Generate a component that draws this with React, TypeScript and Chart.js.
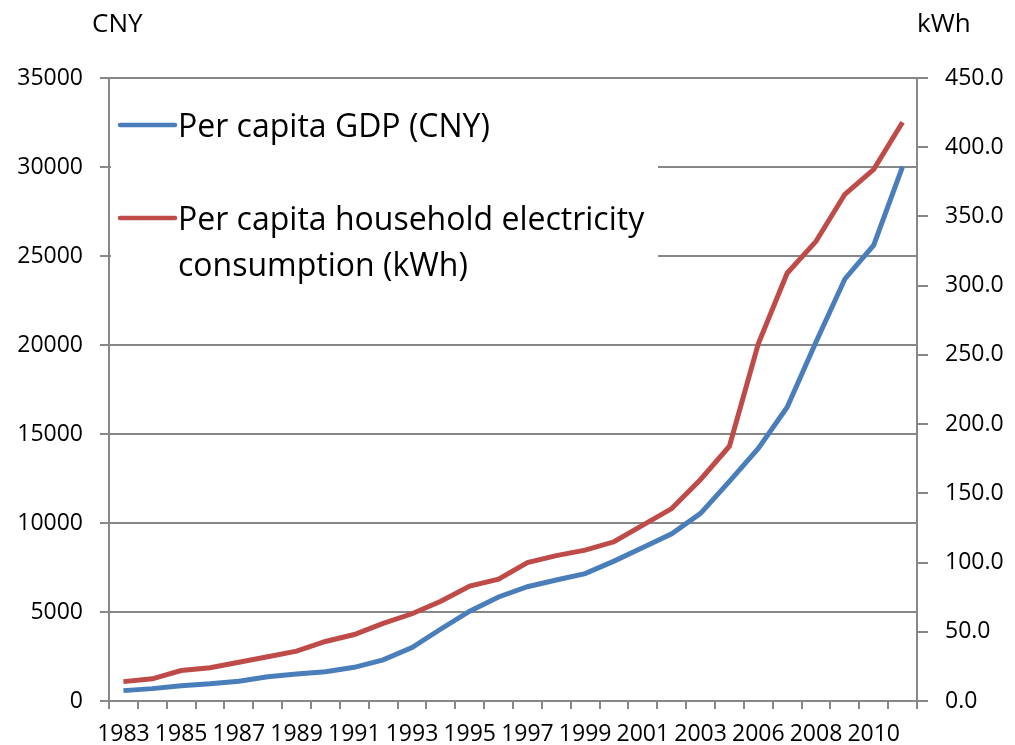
import React, { useEffect, useRef } from 'react';
import { Chart, registerables } from 'chart.js';

Chart.register(...registerables);

const years = [
  '1983', '1984', '1985', '1986', '1987', '1988', '1989', '1990', '1991', '1992',
  '1993', '1994', '1995', '1996', '1997', '1998', '1999', '2000', '2001', '2002',
  '2003', '2005', '2006', '2007', '2008', '2009', '2010', '2011',
];

const gdpCNY = [
  583, 695, 858, 963, 1112, 1366, 1519, 1644, 1893, 2311,
  2998, 4044, 5046, 5846, 6420, 6796, 7159, 7858, 8622, 9398,
  10542, 12336, 14185, 16500, 20169, 23708, 25608, 30015,
];

const electricityKWh = [
  14, 16, 22, 24, 28, 32, 36, 43, 48, 56,
  63, 72, 83, 88, 100, 105, 109, 115, 127, 139,
  160, 184, 258, 309, 332, 366, 384, 418,
];

const seriesLabels = ['Per capita GDP (CNY)', 'Per capita household electricity consumption (kWh)'];
const legendLines = [['Per capita GDP (CNY)'], ['Per capita household electricity', 'consumption (kWh)']];
const axisTitles = ['CNY', 'kWh'];

const FONT = '"Open Sans", Lato, sans-serif';
const GRID = '#878787';
const BLUE = '#4a7ebb';
const RED = '#be4b48';

const overlayPlugin = {
  id: 'overlay',
  afterDraw(chart: any) {
    const ctx = chart.ctx as CanvasRenderingContext2D;
    ctx.save();
    // legend box
    ctx.fillStyle = '#ffffff';
    ctx.fillRect(111, 90, 547, 210);
    const colors = [BLUE, RED];
    const rows = [[137], [230, 276]];
    const sampleY = [125, 218];
    ctx.font = `32px ${FONT}`;
    ctx.textBaseline = 'alphabetic';
    ctx.textAlign = 'left';
    legendLines.forEach((lines, i) => {
      ctx.strokeStyle = colors[i];
      ctx.lineWidth = 4.5;
      ctx.lineCap = 'round';
      ctx.beginPath();
      ctx.moveTo(120, sampleY[i]);
      ctx.lineTo(175, sampleY[i]);
      ctx.stroke();
      ctx.fillStyle = '#000';
      lines.forEach((t, j) => ctx.fillText(t, 178, rows[i][j]));
    });
    // axis titles
    ctx.font = `26px ${FONT}`;
    ctx.fillStyle = '#000';
    ctx.fillText(axisTitles[0], 92, 32);
    ctx.fillText(axisTitles[1], 917, 32);
    ctx.restore();
  },
};

export default function App() {
  const ref = useRef<HTMLCanvasElement | null>(null);
  useEffect(() => {
    document.body.style.margin = '0';
    const canvas = ref.current;
    if (!canvas) return;
    const tickFont = { family: FONT, size: 23 };
    const chart = new Chart(canvas, {
      type: 'line',
      data: {
        labels: years,
        datasets: [
          {
            label: seriesLabels[0],
            data: gdpCNY,
            borderColor: BLUE,
            backgroundColor: BLUE,
            borderWidth: 5,
            pointRadius: 0,
            tension: 0,
            yAxisID: 'y',
          },
          {
            label: seriesLabels[1],
            data: electricityKWh,
            borderColor: RED,
            backgroundColor: RED,
            borderWidth: 5,
            pointRadius: 0,
            tension: 0,
            yAxisID: 'y1',
          },
        ],
      },
      options: {
        animation: false,
        responsive: false,
        maintainAspectRatio: false,
        layout: { padding: { top: 78, left: 0, right: 0, bottom: 0 } },
        plugins: { legend: { display: false }, tooltip: { enabled: false } },
        scales: {
          x: {
            type: 'category',
            offset: true,
            grid: { offset: true, drawOnChartArea: false, color: GRID, lineWidth: 2, tickLength: 8 },
            border: { color: GRID, width: 2 },
            ticks: {
              autoSkip: false,
              maxRotation: 0,
              minRotation: 0,
              padding: 12,
              color: '#000',
              font: tickFont,
              callback: (_v: any, i: number) => (i % 2 === 0 ? years[i] : ''),
            },
            afterFit: (s: any) => { s.height = 44; },
          },
          y: {
            position: 'left',
            min: 0,
            max: 35000,
            ticks: {
              stepSize: 5000,
              padding: 17,
              color: '#000',
              font: tickFont,
              callback: (v: any) => String(v),
            },
            grid: { color: GRID, lineWidth: 2, tickLength: 9 },
            border: { color: GRID, width: 2 },
            afterFit: (s: any) => { s.width = 109; },
          },
          y1: {
            position: 'right',
            min: 0,
            max: 450,
            ticks: {
              stepSize: 50,
              padding: 17,
              color: '#000',
              font: tickFont,
              callback: (v: any) => Number(v).toFixed(1),
            },
            grid: { drawOnChartArea: false, color: GRID, lineWidth: 2, tickLength: 11 },
            border: { color: GRID, width: 2 },
            afterFit: (s: any) => { s.width = 98; },
          },
        },
      },
      plugins: [overlayPlugin],
    });
    return () => chart.destroy();
  }, []);
  return (
    <div style={{ width: 1015, height: 745, background: '#fff' }}>
      <canvas ref={ref} width={1015} height={745} style={{ display: 'block' }} />
    </div>
  );
}
